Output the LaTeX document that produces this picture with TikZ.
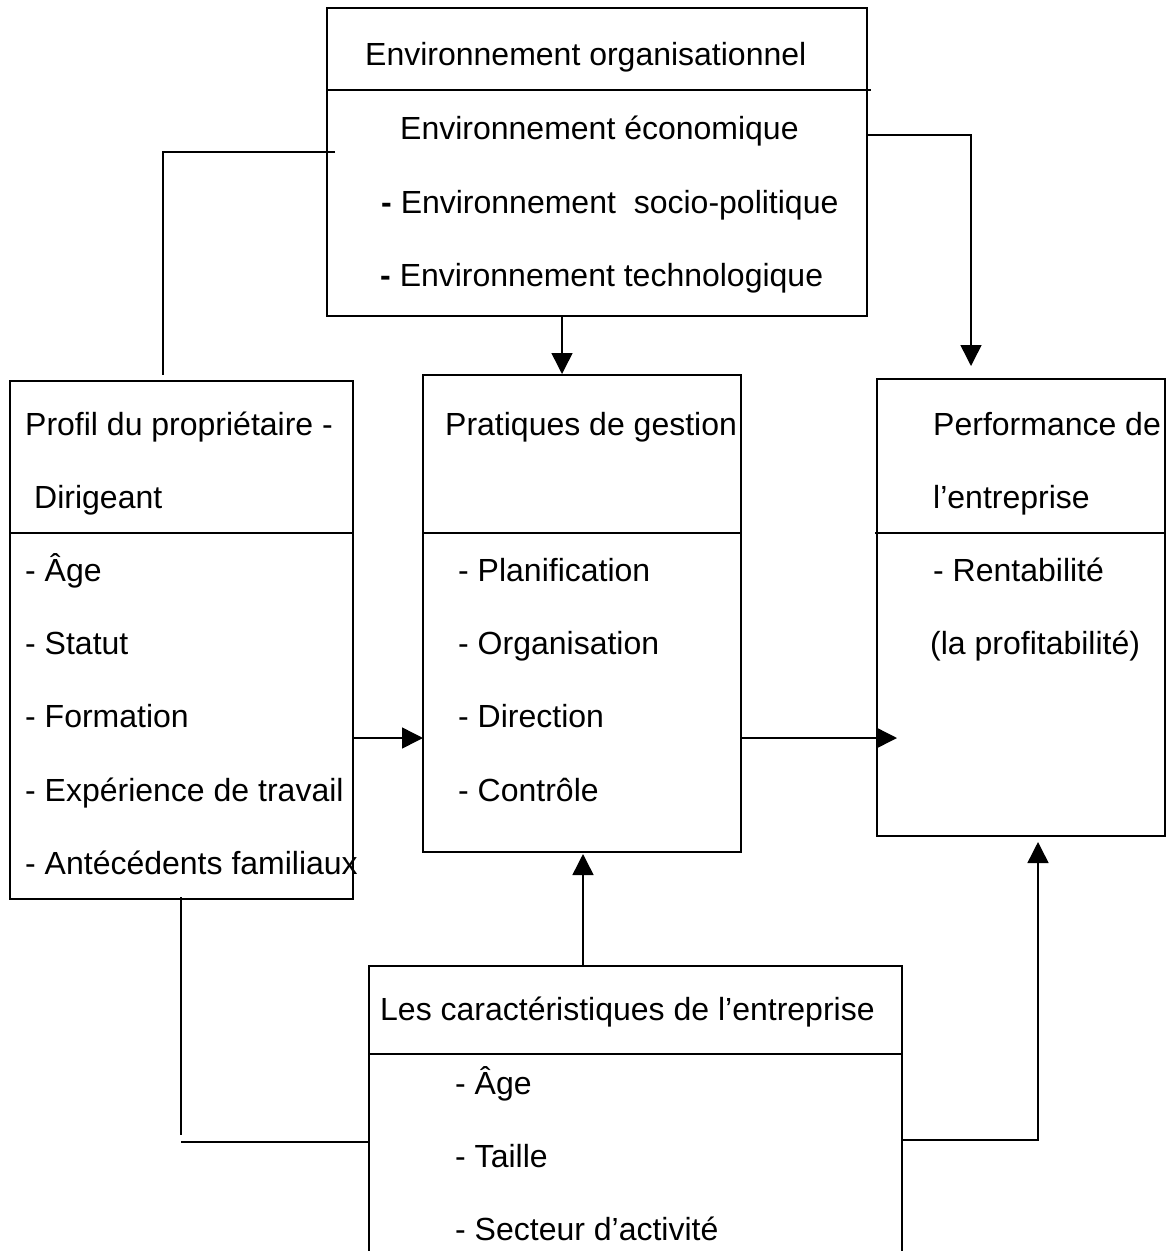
\documentclass[tikz,border=0pt]{standalone}
\usepackage{fontspec}
\setmainfont{Liberation Sans}
\usetikzlibrary{arrows.meta}
\begin{document}
\begin{tikzpicture}[x=1pt,y=-1pt,
  box/.style={draw, line width=1.5pt, anchor=north west, inner sep=0pt, outer sep=0pt},
  txt/.style={anchor=base west, inner sep=0pt, font=\fontsize{32}{38}\selectfont},
  conn/.style={line width=1.5pt},
  arr/.style={line width=1.5pt, -{Triangle[length=21pt,width=21pt]}}]
\useasboundingbox (0,0) rectangle (1173,1251);
\clip (0,0) rectangle (1173,1251);
\fill[white] (0,0) rectangle (1173,1251);

% boxes
\node[box, minimum width=540pt, minimum height=308pt] (top) at (327,8) {};
\node[box, minimum width=343pt, minimum height=518pt] (profil) at (10,381) {};
\node[box, minimum width=318pt, minimum height=477pt] (prat) at (423,375) {};
\node[box, minimum width=288pt, minimum height=457pt] (perf) at (877,379) {};
\node[box, minimum width=533pt, minimum height=310pt] (carac) at (369,966) {};

% dividers
\draw[conn] (top.west |- 0,90) -- ([xshift=4pt]top.east |- 0,90);
\draw[conn] (profil.west |- 0,533) -- (profil.east |- 0,533);
\draw[conn] (prat.west |- 0,533) -- (prat.east |- 0,533);
\draw[conn] ([xshift=-2pt]perf.west |- 0,533) -- (perf.east |- 0,533);
\draw[conn] (carac.west |- 0,1054) -- (carac.east |- 0,1054);

% texts: top
\node[txt] (t0) at (365,65) {Environnement organisationnel};
\node[txt] (t1) at (400,139) {Environnement économique};
\node[txt] (t2) at (381,213) {\textbf{-} Environnement\hspace{9pt} socio-politique};
\node[txt] (t3) at (380,286) {\textbf{-} Environnement technologique};

% profil
\node[txt] (p0) at (25,435) {Profil du propriétaire -};
\node[txt] (p1) at (34,508) {Dirigeant};
\node[txt] (p2) at (25,581) {- Âge};
\node[txt] (p3) at (25,654) {- Statut};
\node[txt] (p4) at (25,727) {- Formation};
\node[txt] (p5) at (25,801) {- Expérience de travail};
\node[txt] (p6) at (25,874) {- Antécédents familiaux};

% pratiques
\node[txt] (g0) at (445,435) {Pratiques de gestion};
\node[txt] (g1) at (458,581) {- Planification};
\node[txt] (g2) at (458,654) {- Organisation};
\node[txt] (g3) at (458,727) {- Direction};
\node[txt] (g4) at (458,801) {- Contrôle};

% performance
\node[txt] (f0) at (933,435) {Performance de};
\node[txt] (f1) at (933,508) {l’entreprise};
\node[txt] (f2) at (933,581) {- Rentabilité};
\node[txt] (f3) at (930,654) {(la profitabilité)};

% caracteristiques
\node[txt] (c0) at (380,1020) {Les caractéristiques de l’entreprise};
\node[txt] (c1) at (455,1094) {- Âge};
\node[txt] (c2) at (455,1167) {- Taille};
\node[txt] (c3) at (455,1240) {- Secteur d’activité};

% connectors
\coordinate (a1) at (335,152);
\coordinate (a2) at (163,375);
\draw[conn] (a1) -| (a2);

\draw[arr] (top.east |- 0,135) -| (971,366);
\draw[arr] (562,316) -- (562,374);

\draw[arr] (profil.east |- 0,738) -- (prat.west |- 0,738);
\draw[arr] (prat.east |- 0,738) -- (897,738);

\draw[arr] (583,966) -- (583,854);
\draw[arr] (carac.east |- 0,1140) -| (1038,842);

\coordinate (b1) at (181,897);
\coordinate (b2) at (181,1135);
\coordinate (b3) at (181,1142);
\draw[conn] (b1) -- (b2);
\draw[conn] (b3) -- (carac.west |- b3);
\end{tikzpicture}
\end{document}
